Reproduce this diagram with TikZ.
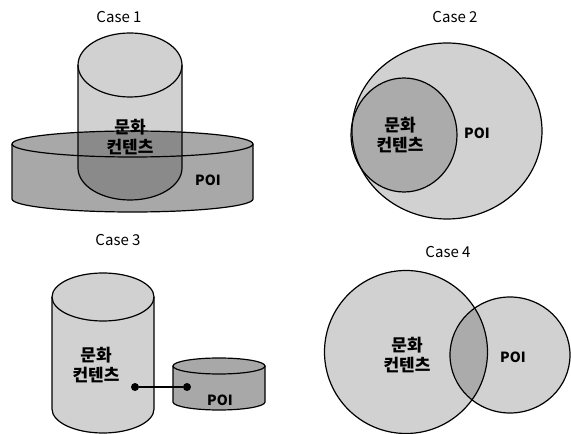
\documentclass[tikz,border=0pt]{standalone}
\usepackage{fontspec}
\setmainfont{Noto Sans CJK KR}

% filled silhouette of an upright cylinder: centre x, x radius, top y, bottom y, y radius, style
\newcommand\cylfill[6]{%
  \fill[#6] (#1-#2,#3) arc[start angle=180,end angle=0,x radius=#2,y radius=#5]
    -- (#1+#2,#4) arc[start angle=0,end angle=-180,x radius=#2,y radius=#5] -- cycle;}
% outline of the same cylinder
\newcommand\cylline[5]{%
  \draw[outline] (#1,#3) ellipse[x radius=#2,y radius=#5];
  \draw[outline] (#1-#2,#3) -- (#1-#2,#4)
    arc[start angle=180,end angle=360,x radius=#2,y radius=#5] -- (#1+#2,#3);}

\begin{document}
\begin{tikzpicture}[x=1pt,y=1pt,
  outline/.style={draw=black,line width=1.2pt},
  light/.style={fill=black,fill opacity=0.18},
  dark/.style={fill=black,fill opacity=0.34},
  title/.style={font=\fontsize{15}{17}\selectfont},
  kor/.style={font=\fontsize{17}{20}\selectfont\bfseries,align=center,inner sep=0pt},
  poi/.style={font=\fontsize{14}{16}\selectfont\bfseries,inner sep=0pt},
  dot/.style={circle,fill=black,inner sep=0pt,minimum size=8pt}]
\useasboundingbox (0,0) rectangle (571,434);

% ---------- Case 1: tall cylinder standing in a wide disc ----------
\node[title] (t1) at (119,417) {Case 1};
\cylfill{132.5}{120.5}{290}{235}{13}{dark}
\cylfill{130}{52}{369}{266}{32}{light}
\cylline{132.5}{120.5}{290}{235}{13}
\cylline{130}{52}{369}{266}{32}
\node[kor] (c1) at (130,297) {문화\\컨텐츠};
\node[poi] (p1) at (208,254) {POI};

% ---------- Case 2: circle inside a circle ----------
\node[title] (t2) at (455,417) {Case 2};
\fill[light] (447,303) ellipse[x radius=95,y radius=88];
\fill[light] (404,299) ellipse[x radius=53,y radius=57];
\draw[outline] (447,303) ellipse[x radius=95,y radius=88];
\draw[outline] (404,299) ellipse[x radius=53,y radius=57];
\node[kor] (c2) at (400,299) {문화\\컨텐츠};
\node[poi] (p2) at (477,301) {POI};

% ---------- Case 3: two separate cylinders joined by a link ----------
\node[title] (t3) at (118,194) {Case 3};
\cylfill{103}{51}{137}{25}{24}{light}
\cylline{103}{51}{137}{25}{24}
\cylfill{219}{46}{68}{32}{8}{dark}
\cylline{219}{46}{68}{32}{8}
\node[kor] (c3) at (96,69) {문화\\컨텐츠};
\node[poi] (p3) at (220,34) {POI};
\node[dot] (d1) at (135,47) {};
\node[dot] (d2) at (187,47) {};
\draw[line width=1.4pt] (d1) -- (d2);

% ---------- Case 4: two overlapping circles ----------
\node[title] (t4) at (448,182) {Case 4};
\fill[light] (406,82) circle[radius=81.5];
\fill[light] (510,79) ellipse[x radius=60,y radius=58];
\draw[outline] (406,82) circle[radius=81.5];
\draw[outline] (510,79) ellipse[x radius=60,y radius=58];
\node[kor] (c4) at (407,79) {문화\\컨텐츠};
\node[poi] (p4) at (513,77) {POI};
\end{tikzpicture}
\end{document}
